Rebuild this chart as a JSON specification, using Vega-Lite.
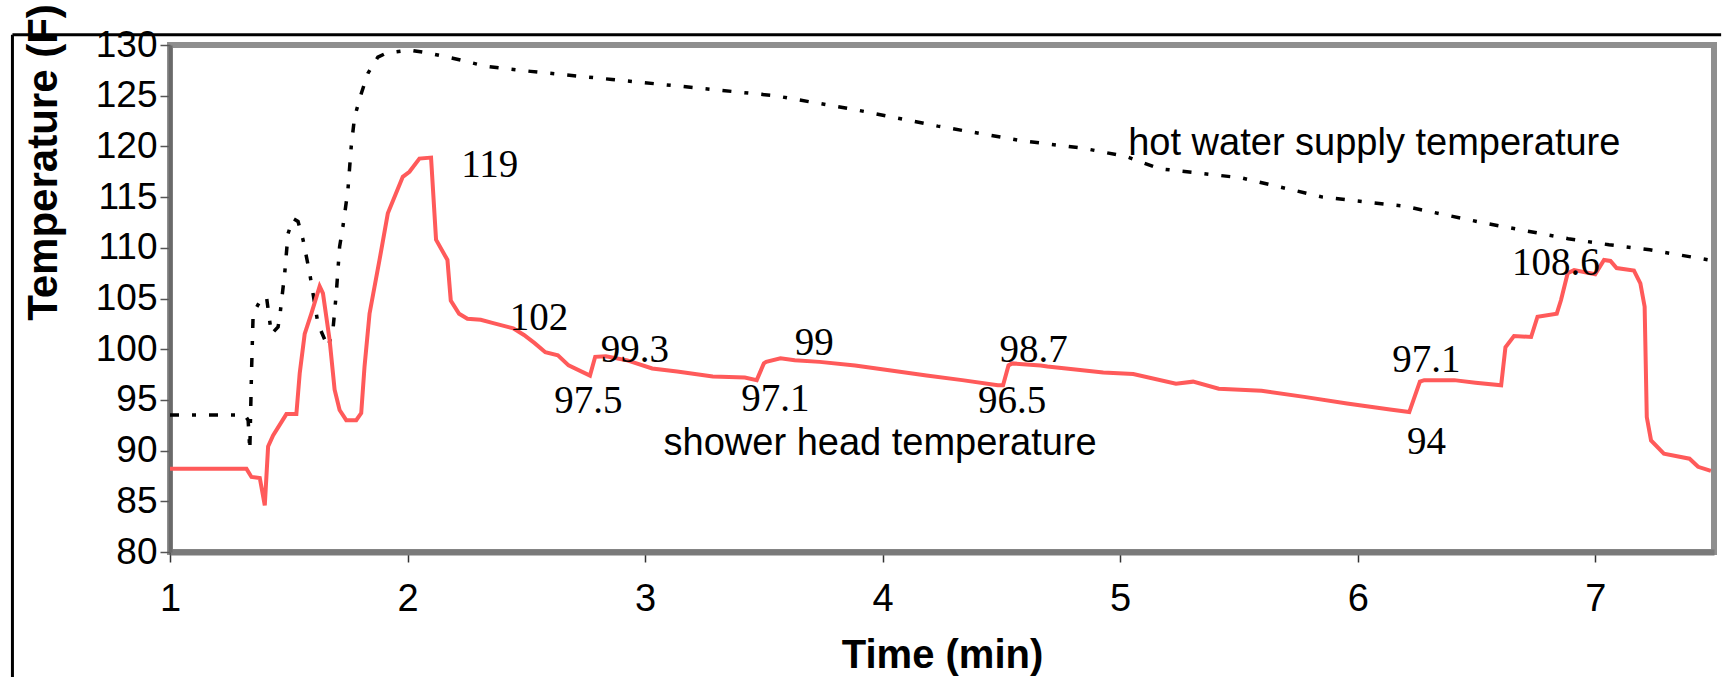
{
  "$schema": "https://vega.github.io/schema/vega-lite/v6.json",
  "width": 1544,
  "height": 507,
  "autosize": {"type": "none"},
  "padding": {"left": 170, "top": 45, "right": 9, "bottom": 125},
  "background": "white",
  "config": {
    "view": {"stroke": "#8f8f8f", "strokeWidth": 6},
    "axis": {"grid": false, "labelColor": "#000", "titleColor": "#000", "labelFont": "Liberation Sans", "titleFont": "Liberation Sans"}
  },
  "datasets": {
    "shower": [
      {"t":1.0,"T":88.2},{"t":1.322,"T":88.2},{"t":1.343,"T":87.4},{"t":1.378,"T":87.3},{"t":1.399,"T":84.6},{"t":1.413,"T":90.4},{"t":1.434,"T":91.5},{"t":1.49,"T":93.6},{"t":1.532,"T":93.6},{"t":1.546,"T":97.6},{"t":1.567,"T":101.5},{"t":1.595,"T":103.5},{"t":1.63,"T":106.2},{"t":1.644,"T":105.5},{"t":1.672,"T":100.9},{"t":1.693,"T":96.0},{"t":1.714,"T":94.0},{"t":1.742,"T":93.0},{"t":1.784,"T":93.0},{"t":1.805,"T":93.7},{"t":1.819,"T":98.3},{"t":1.84,"T":103.5},{"t":1.882,"T":108.8},{"t":1.917,"T":113.4},{"t":1.98,"T":117.0},{"t":2.008,"T":117.5},{"t":2.05,"T":118.8},{"t":2.099,"T":118.9},{"t":2.12,"T":110.8},{"t":2.168,"T":108.8},{"t":2.182,"T":104.8},{"t":2.217,"T":103.5},{"t":2.252,"T":103.0},{"t":2.308,"T":102.9},{"t":2.357,"T":102.6},{"t":2.445,"T":102.05},{"t":2.49,"T":101.4},{"t":2.535,"T":100.6},{"t":2.58,"T":99.7},{"t":2.633,"T":99.4},{"t":2.678,"T":98.4},{"t":2.768,"T":97.4},{"t":2.79,"T":99.25},{"t":2.835,"T":99.3},{"t":2.925,"T":98.9},{"t":3.03,"T":98.1},{"t":3.135,"T":97.8},{"t":3.285,"T":97.3},{"t":3.42,"T":97.2},{"t":3.47,"T":96.95},{"t":3.5,"T":98.6},{"t":3.51,"T":98.75},{"t":3.57,"T":99.1},{"t":3.63,"T":98.9},{"t":3.735,"T":98.75},{"t":3.884,"T":98.4},{"t":4.035,"T":97.9},{"t":4.185,"T":97.4},{"t":4.335,"T":96.95},{"t":4.485,"T":96.45},{"t":4.507,"T":96.45},{"t":4.53,"T":98.4},{"t":4.545,"T":98.6},{"t":4.665,"T":98.4},{"t":4.694,"T":98.3},{"t":4.929,"T":97.7},{"t":5.055,"T":97.55},{"t":5.235,"T":96.6},{"t":5.307,"T":96.8},{"t":5.415,"T":96.1},{"t":5.595,"T":95.9},{"t":5.775,"T":95.3},{"t":5.955,"T":94.65},{"t":6.136,"T":94.05},{"t":6.217,"T":93.8},{"t":6.235,"T":95.0},{"t":6.262,"T":96.8},{"t":6.28,"T":96.95},{"t":6.406,"T":96.95},{"t":6.496,"T":96.7},{"t":6.604,"T":96.45},{"t":6.622,"T":100.2},{"t":6.658,"T":101.3},{"t":6.73,"T":101.2},{"t":6.757,"T":103.2},{"t":6.838,"T":103.5},{"t":6.856,"T":104.85},{"t":6.884,"T":107.5},{"t":6.911,"T":107.8},{"t":7.0,"T":107.4},{"t":7.037,"T":108.8},{"t":7.064,"T":108.7},{"t":7.09,"T":108.0},{"t":7.163,"T":107.75},{"t":7.19,"T":106.5},{"t":7.208,"T":104.2},{"t":7.217,"T":93.3},{"t":7.235,"T":91.0},{"t":7.289,"T":89.7},{"t":7.397,"T":89.2},{"t":7.433,"T":88.4},{"t":7.487,"T":88.0}
    ],
    "hot": [
      {"t":1.0,"T":93.5},{"t":1.315,"T":93.5},{"t":1.329,"T":93.0},{"t":1.336,"T":90.0},{"t":1.343,"T":97.6},{"t":1.35,"T":103.5},{"t":1.378,"T":104.7},{"t":1.406,"T":105.2},{"t":1.427,"T":101.5},{"t":1.455,"T":102.2},{"t":1.462,"T":103.2},{"t":1.483,"T":107.5},{"t":1.497,"T":111.4},{"t":1.518,"T":112.9},{"t":1.539,"T":112.6},{"t":1.56,"T":110.8},{"t":1.588,"T":107.5},{"t":1.623,"T":102.5},{"t":1.665,"T":100.2},{"t":1.686,"T":101.9},{"t":1.7,"T":105.5},{"t":1.714,"T":110.1},{"t":1.728,"T":112.1},{"t":1.749,"T":115.7},{"t":1.763,"T":120.0},{"t":1.777,"T":122.9},{"t":1.805,"T":125.2},{"t":1.833,"T":127.2},{"t":1.875,"T":128.8},{"t":1.91,"T":129.2},{"t":2.008,"T":129.5},{"t":2.09,"T":129.2},{"t":2.19,"T":128.7},{"t":2.33,"T":127.9},{"t":2.518,"T":127.4},{"t":2.861,"T":126.6},{"t":3.204,"T":125.8},{"t":3.546,"T":125.0},{"t":3.889,"T":123.6},{"t":4.232,"T":122.0},{"t":4.574,"T":120.6},{"t":4.849,"T":119.8},{"t":5.026,"T":119.0},{"t":5.165,"T":117.8},{"t":5.509,"T":116.9},{"t":5.853,"T":115.0},{"t":6.197,"T":114.1},{"t":6.542,"T":112.4},{"t":6.886,"T":110.9},{"t":7.058,"T":110.3},{"t":7.23,"T":109.8},{"t":7.478,"T":108.8}
    ],
    "values": [
      {"label":"119","t":2.226,"T":117.0},
      {"label":"102","t":2.43,"T":101.9},
      {"label":"99.3","t":2.813,"T":98.76},
      {"label":"97.5","t":2.618,"T":93.7},
      {"label":"99","t":3.63,"T":99.4},
      {"label":"97.1","t":3.405,"T":93.9},
      {"label":"98.7","t":4.492,"T":98.76},
      {"label":"96.5","t":4.402,"T":93.7},
      {"label":"97.1","t":6.145,"T":97.77},
      {"label":"94","t":6.208,"T":89.7},
      {"label":"108.6","t":6.65,"T":107.3}
    ],
    "names": [
      {"label":"hot water supply temperature","t":5.034,"T":119.2},
      {"label":"shower head temperature","t":3.078,"T":89.6}
    ]
  },
  "layer": [
    {
      "data": {"name": "hot"},
      "mark": {"type": "line", "color": "#000000", "strokeWidth": 3.5, "strokeDash": [9, 13, 4, 13]},
      "encoding": {
        "x": {"field": "t", "type": "quantitative",
          "scale": {"domain": [1, 7.5], "nice": false, "zero": false},
          "axis": {"values": [1, 2, 3, 4, 5, 6, 7], "format": "d", "labelFlush": false, "domainColor": "#7a7a7a", "domainWidth": 6, "tickColor": "#333333", "tickWidth": 1.5, "tickSize": 10, "labelPadding": 18, "labelFontSize": 38, "title": "Time (min)", "titleFontSize": 40, "titleFontWeight": "bold", "titleY": 115, "titleBaseline": "alphabetic"}},
        "y": {"field": "T", "type": "quantitative",
          "scale": {"domain": [80, 130], "nice": false, "zero": false},
          "axis": {"values": [80, 85, 90, 95, 100, 105, 110, 115, 120, 125, 130], "format": "d", "domainColor": "#6a6a6a", "domainWidth": 4, "tickColor": "#555555", "tickWidth": 1.5, "tickSize": 10, "labelPadding": 3, "labelFontSize": 37, "title": "Temperature (F)", "titleFontSize": 42, "titleFontWeight": "bold", "titleAngle": -90, "titleX": -114, "titleY": 117, "titleAlign": "center", "titleBaseline": "alphabetic"}}
      }
    },
    {
      "data": {"name": "shower"},
      "mark": {"type": "line", "color": "#ff5a5a", "strokeWidth": 4},
      "encoding": {
        "x": {"field": "t", "type": "quantitative"},
        "y": {"field": "T", "type": "quantitative"}
      }
    },
    {
      "data": {"name": "values"},
      "mark": {"type": "text", "font": "Liberation Serif", "fontSize": 39, "align": "left", "baseline": "alphabetic", "color": "#000"},
      "encoding": {
        "x": {"field": "t", "type": "quantitative"},
        "y": {"field": "T", "type": "quantitative"},
        "text": {"field": "label"}
      }
    },
    {
      "data": {"name": "names"},
      "mark": {"type": "text", "font": "Liberation Sans", "fontSize": 38, "align": "left", "baseline": "alphabetic", "color": "#000"},
      "encoding": {
        "x": {"field": "t", "type": "quantitative"},
        "y": {"field": "T", "type": "quantitative"},
        "text": {"field": "label"}
      }
    },
    {
      "data": {"values": [{}]},
      "mark": {"type": "rule", "color": "#000", "strokeWidth": 3, "clip": false},
      "encoding": {
        "x": {"datum": 0.3367, "type": "quantitative"},
        "x2": {"datum": 7.53},
        "y": {"datum": 131.0, "type": "quantitative"}
      }
    },
    {
      "data": {"values": [{}]},
      "mark": {"type": "rule", "color": "#000", "strokeWidth": 3, "clip": false},
      "encoding": {
        "x": {"datum": 0.3367, "type": "quantitative"},
        "y": {"datum": 131.0, "type": "quantitative"},
        "y2": {"datum": 66}
      }
    }
  ]
}
